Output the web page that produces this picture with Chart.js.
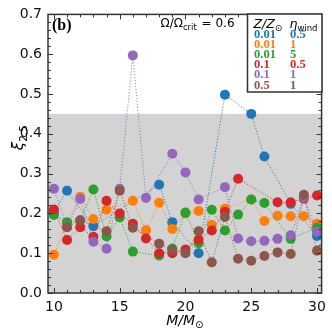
<!DOCTYPE html>
<html><head><meta charset="utf-8">
<script src="https://cdn.jsdelivr.net/npm/chart.js@4.4.0/dist/chart.umd.min.js"></script>
<style>html,body{margin:0;padding:0;background:#fff;}canvas{display:block;}</style>
</head><body>
<canvas id="c" width="332" height="332"></canvas>
<script>
// ---- data ----
const masses = [10,11,12,13,14,15,16,17,18,19,20,21,22,23,24,25,26,27,28,29,30];
const xiBlue   = [0.203,0.257,null,0.168,null,null,null,null,0.272,0.178,null,0.100,null,0.498,null,0.450,0.343,null,0.224,null,0.143];
const xiOrange = [0.096,0.176,0.242,0.186,0.209,null,0.232,0.158,0.227,0.161,0.200,0.206,0.171,0.212,null,0.235,0.181,0.194,0.193,0.193,0.174];
const xiGreen  = [0.196,0.178,0.182,0.260,0.142,0.190,0.104,null,0.094,0.112,0.202,0.125,0.209,0.157,0.197,0.235,0.226,null,0.136,null,0.164];
const xiRed    = [0.210,0.133,0.165,0.141,0.232,0.200,0.174,0.137,0.100,0.100,0.109,0.134,0.157,0.204,0.287,null,null,0.228,0.228,0.237,0.245];
const xiPurple = [0.262,0.166,0.236,0.129,0.111,0.262,0.597,0.239,null,0.350,0.303,0.235,null,0.266,0.137,0.130,0.131,0.136,0.145,0.240,0.154];
const xiBrown  = [null,0.165,0.183,null,0.155,0.257,0.164,null,0.124,0.108,0.100,0.155,0.077,0.191,0.086,0.081,0.093,0.102,0.098,0.247,0.106];
const zLabels   = ['0.01','0.01','0.01','0.1','0.1','0.5'];
const etaLabels = ['0.5','1','5','0.5','1','1'];
const seriesValues = [xiBlue, xiOrange, xiGreen, xiRed, xiPurple, xiBrown];
const colors = ['#1f77b4','#ff7f0e','#2ca02c','#d62728','#9467bd','#8c564b'];
const shadeRange = [0, 0.45];
const yTicks = [0,0.1,0.2,0.3,0.4,0.5,0.6,0.7];
const xTicks = [10,15,20,25,30];
const omegaRatio = '0.6';

function hexA(h,a){const n=parseInt(h.slice(1),16);return `rgba(${n>>16},${(n>>8)&255},${n&255},${a})`;}

const datasets = seriesValues.map((vals,i)=>({
  label: 'Z='+zLabels[i]+' eta='+etaLabels[i],
  data: masses.map((m,j)=>({x:m,y:vals[j]})),
  spanGaps: true,
  order: seriesValues.length - i,
  borderColor: hexA(colors[i],0.85),
  borderWidth: 1,
  borderDash: [1.2,1.8],
  pointRadius: 5,
  pointHoverRadius: 5,
  pointBorderWidth: 0,
  pointBorderColor: colors[i],
  pointBackgroundColor: colors[i],
  backgroundColor: colors[i],
  tension: 0
}));

const SANS = '"DejaVu Sans"';
const SERIF = '"Liberation Serif"';

function seg(ctx, parts, x, y){
  let cx = x;
  for(const [t,f,dy] of parts){ ctx.font=f; ctx.fillText(t,cx,y+(dy||0)); cx += ctx.measureText(t).width; }
  return cx;
}

const deco = {
  id:'deco',
  beforeDatasetsDraw(chart){
    const {ctx, chartArea:a, scales:{y}} = chart;
    const yt = y.getPixelForValue(shadeRange[1]), yb = y.getPixelForValue(shadeRange[0]);
    ctx.save(); ctx.fillStyle='#d3d3d3'; ctx.fillRect(a.left, yt, a.right-a.left, yb-yt); ctx.restore();
  },
  afterDraw(chart){
    const {ctx, chartArea:a, scales:{x,y}} = chart;
    ctx.save();
    ctx.strokeStyle='#333'; ctx.lineWidth=1;
    for(let m=10;m<=30;m++){
      const px = Math.round(x.getPixelForValue(m))+0.5;
      const L = (m%5===0)?5:3;
      ctx.beginPath(); ctx.moveTo(px,a.bottom); ctx.lineTo(px,a.bottom-L);
      ctx.moveTo(px,a.top); ctx.lineTo(px,a.top+L); ctx.stroke();
    }
    for(let k=0;k<=35;k++){
      const v=k*0.02; const py=Math.round(y.getPixelForValue(v))+0.5;
      const L=(k%5===0)?5:3;
      ctx.beginPath(); ctx.moveTo(a.left,py); ctx.lineTo(a.left+L,py);
      ctx.moveTo(a.right,py); ctx.lineTo(a.right-L,py); ctx.stroke();
    }
    ctx.lineWidth=1.5; ctx.strokeStyle='#333';
    ctx.strokeRect(a.left, a.top, a.right-a.left, a.bottom-a.top);

    ctx.fillStyle='#000'; ctx.textBaseline='alphabetic'; ctx.textAlign='left';
    ctx.font='bold 16px '+SERIF; ctx.fillText('(b)', a.left+4, a.top+16);
    let cx = seg(ctx, [['Ω/Ω','12px '+SANS,0],['crit','8.5px '+SANS,3]], 160.5, 27);
    seg(ctx, [[' = '+omegaRatio,'12px '+SANS,0]], cx+1, 27);

    const bx=247.5, by=14, bw=74.5, bh=78;
    ctx.fillStyle='#fff'; ctx.fillRect(bx,by,bw,bh);
    ctx.lineWidth=1.5; ctx.strokeStyle='#333'; ctx.strokeRect(bx,by,bw,bh);
    ctx.fillStyle='#000';
    seg(ctx, [['Z/Z','italic 12.5px '+SANS,0],['⊙','9px '+SANS,3]], 253.5, 27.5);
    seg(ctx, [['η','italic 12.5px '+SANS,0],['wind','8.5px '+SANS,3]], 289.5, 27.5);
    ctx.font='bold 12.5px '+SERIF;
    for(let i=0;i<zLabels.length;i++){
      const yy = 37.5 + i*10.2;
      ctx.fillStyle=colors[i];
      ctx.fillText(zLabels[i], 254, yy);
      ctx.fillText(etaLabels[i], 290, yy);
    }
    ctx.fillStyle='#000';
    ctx.font='italic 14px '+SANS;
    const w1 = ctx.measureText('M/M').width; ctx.font='10px '+SANS; const w2=ctx.measureText('⊙').width;
    const xc=(a.left+a.right)/2, start=xc-(w1+w2)/2;
    seg(ctx, [['M/M','italic 14px '+SANS,0],['⊙','10px '+SANS,3]], start, 325);
    ctx.save();
    ctx.translate(23, (a.top+a.bottom)/2 - 16);
    ctx.rotate(-Math.PI/2);
    ctx.font='italic 15px '+SANS; const wa=ctx.measureText('ξ').width;
    ctx.font='10.5px '+SANS; const wb=ctx.measureText('2.5').width;
    seg(ctx, [['ξ','italic 15px '+SANS,0],['2.5','10.5px '+SANS,3.5]], -(wa+wb)/2, 0);
    ctx.restore();
    ctx.restore();
  }
};

new Chart(document.getElementById('c'), {
  type:'line',
  data:{datasets},
  options:{
    responsive:false, animation:false, devicePixelRatio:1,
    layout:{padding:{top:7,right:5,left:0,bottom:0}},
    plugins:{legend:{display:false}, tooltip:{enabled:false}},
    scales:{
      x:{type:'linear', min:9.55, max:30.35,
         afterBuildTicks:s=>{s.ticks=xTicks.map(v=>({value:v}));},
         ticks:{font:{family:'DejaVu Sans',size:14}, color:'#111', padding:6, maxRotation:0, callback:v=>String(v)},
         grid:{display:false, drawTicks:false}, border:{display:false},
         afterFit:s=>{s.height=39;}},
      y:{type:'linear', min:0, max:0.7,
         afterBuildTicks:s=>{s.ticks=yTicks.map(v=>({value:v}));},
         ticks:{font:{family:'DejaVu Sans',size:14}, color:'#111', padding:6, callback:v=>v.toFixed(1)},
         grid:{display:false, drawTicks:false}, border:{display:false},
         afterFit:s=>{s.width=48;}}
    }
  },
  plugins:[deco]
});
</script>
</body></html>
